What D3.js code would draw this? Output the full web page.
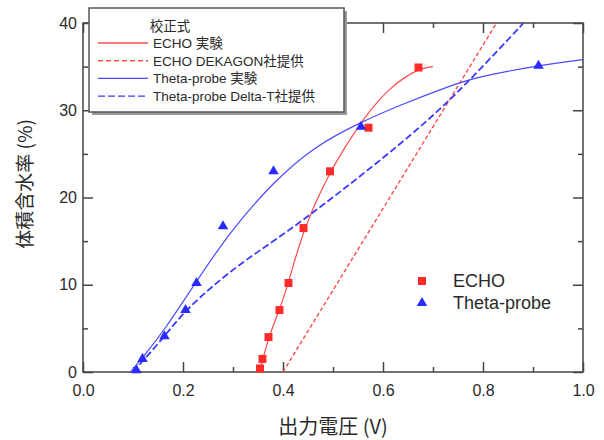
<!DOCTYPE html>
<html>
<head>
<meta charset="utf-8">
<script src="https://cdn.jsdelivr.net/npm/d3@7"></script>
<style>
	body { margin: 0; background: #fff; }
</style>
</head>
<body>
<div id="chart"></div>
<script>
// Measured points: ECHO (red squares)
const echoVolt = [0.354, 0.359, 0.371, 0.393, 0.411, 0.441, 0.494, 0.571, 0.671]
const echoWater = [0.4, 1.5, 4.0, 7.1, 10.2, 16.5, 23.0, 28.0, 34.9]

// Measured points: Theta-probe (blue triangles)
const thetaVolt = [0.107, 0.119, 0.163, 0.205, 0.227, 0.28, 0.381, 0.556, 0.911]
const thetaWater = [0.2, 1.5, 4.1, 7.1, 10.2, 16.7, 23.0, 28.1, 35.1]

// Calibration curves
const echoFitVolt = [0.353, 0.371, 0.393, 0.411, 0.441, 0.494, 0.527, 0.561, 0.614, 0.671, 0.70]
const echoFitWater = [0, 4.0, 7.1, 10.2, 16.5, 23.0, 26.0, 29.1, 32.7, 34.8, 35.0]

const dekagonVolt = [0.40, 0.827]
const dekagonWater = [0, 40]

const thetaFitVolt = [0.095, 0.12, 0.163, 0.227, 0.294, 0.381, 0.461, 0.554, 0.634, 0.734, 0.787, 0.907, 1.0]
const thetaFitWater = [0, 1.7, 4.8, 10.4, 16.1, 21.8, 25.8, 28.6, 30.6, 32.8, 33.8, 35.1, 35.8]

const deltaTVolt = [0.10, 0.163, 0.204, 0.30, 0.40, 0.50, 0.60, 0.70, 0.78, 0.881]
const deltaTWater = [0, 4.05, 7.1, 11.9, 15.7, 20.0, 24.5, 29.3, 33.8, 40]

const xTicks = [0, 0.2, 0.4, 0.6, 0.8, 1.0]
const xMinorTicks = [0.1, 0.3, 0.5, 0.7, 0.9]
const yTicks = [0, 10, 20, 30, 40]
const yMinorTicks = [5, 15, 25, 35]

const lineLegend = [
	{ label: "ECHO 実験", color: "#ff4a4a", dash: null },
	{ label: "ECHO DEKAGON社提供", color: "#ff4a4a", dash: "5,3" },
	{ label: "Theta-probe 実験", color: "#4a4aff", dash: null },
	{ label: "Theta-probe Delta-T社提供", color: "#3a3aff", dash: "7,3" },
]

const W = 604, H = 440
const svg = d3.select("#chart").append("svg")
	.attr("width", W).attr("height", H)
	.style("font-family", "'Liberation Sans', 'Noto Sans CJK JP', sans-serif")

const x = d3.scaleLinear().domain([0, 1]).range([83, 583])
const y = d3.scaleLinear().domain([0, 40]).range([372, 23])

const zip = (a, b) => a.map((v, i) => [v, b[i]])

// axes with inward ticks
const styleAxis = (g) => {
	g.select(".domain").remove()
	g.selectAll("line").attr("stroke", "#444").attr("stroke-width", 1.5)
	g.selectAll("text").attr("fill", "#2a2a2a").style("font-size", "16px")
}

svg.append("g").attr("transform", `translate(0,${y(0)})`)
	.call(d3.axisBottom(x).tickValues(xTicks).tickSize(-10).tickPadding(13).tickFormat(d3.format(".1f")))
	.call(styleAxis)
svg.append("g").attr("transform", `translate(0,${y(0)})`)
	.call(d3.axisBottom(x).tickValues(xMinorTicks).tickSize(-5).tickFormat(""))
	.call(styleAxis)
svg.append("g").attr("transform", `translate(0,${y(40)})`)
	.call(d3.axisTop(x).tickValues(xTicks).tickSize(-10).tickFormat(""))
	.call(styleAxis)
svg.append("g").attr("transform", `translate(0,${y(40)})`)
	.call(d3.axisTop(x).tickValues(xMinorTicks).tickSize(-5).tickFormat(""))
	.call(styleAxis)
svg.append("g").attr("transform", `translate(${x(0)},0)`)
	.call(d3.axisLeft(y).tickValues(yTicks).tickSize(-10).tickPadding(6).tickFormat(d3.format("d")))
	.call(styleAxis)
svg.append("g").attr("transform", `translate(${x(0)},0)`)
	.call(d3.axisLeft(y).tickValues(yMinorTicks).tickSize(-5).tickFormat(""))
	.call(styleAxis)
svg.append("g").attr("transform", `translate(${x(1)},0)`)
	.call(d3.axisRight(y).tickValues(yTicks).tickSize(-10).tickFormat(""))
	.call(styleAxis)
svg.append("g").attr("transform", `translate(${x(1)},0)`)
	.call(d3.axisRight(y).tickValues(yMinorTicks).tickSize(-5).tickFormat(""))
	.call(styleAxis)

// frame
svg.append("rect")
	.attr("x", x(0)).attr("y", y(40))
	.attr("width", x(1) - x(0)).attr("height", y(0) - y(40))
	.attr("fill", "none").attr("stroke", "#444").attr("stroke-width", 1.5)

// clip curves to plot area
svg.append("clipPath").attr("id", "plot-clip")
	.append("rect")
	.attr("x", x(0)).attr("y", y(40))
	.attr("width", x(1) - x(0)).attr("height", y(0) - y(40))

const line = d3.line()
	.x((d) => x(d[0]))
	.y((d) => y(d[1]))
	.curve(d3.curveBasis)

const curves = svg.append("g").attr("clip-path", "url(#plot-clip)")

curves.append("path").datum(zip(echoFitVolt, echoFitWater))
	.attr("fill", "none").attr("stroke", "#ff4a4a").attr("stroke-width", 1.2)
	.attr("d", line)
curves.append("path").datum(zip(dekagonVolt, dekagonWater))
	.attr("fill", "none").attr("stroke", "#ff4a4a").attr("stroke-width", 1.4)
	.attr("stroke-dasharray", "4,2.5")
	.attr("d", line)
curves.append("path").datum(zip(thetaFitVolt, thetaFitWater))
	.attr("fill", "none").attr("stroke", "#4a4aff").attr("stroke-width", 1.2)
	.attr("d", line)
curves.append("path").datum(zip(deltaTVolt, deltaTWater))
	.attr("fill", "none").attr("stroke", "#3a3aff").attr("stroke-width", 1.8)
	.attr("stroke-dasharray", "7,3")
	.attr("d", line)

// data points
const square = d3.symbol().type(d3.symbolSquare).size(64)
const triangle = d3.symbol().type(d3.symbolTriangle).size(48)

svg.append("g").selectAll("path")
	.data(zip(echoVolt, echoWater))
	.join("path")
	.attr("d", square)
	.attr("transform", (d) => `translate(${x(d[0])},${y(d[1])})`)
	.attr("fill", "#ff2a2a")

svg.append("g").selectAll("path")
	.data(zip(thetaVolt, thetaWater))
	.join("path")
	.attr("d", triangle)
	.attr("transform", (d) => `translate(${x(d[0])},${y(d[1])})`)
	.attr("fill", "#2a2aff")

// scatter legend
const pointLegend = svg.append("g").attr("transform", "translate(422,281)")
pointLegend.append("path").attr("d", square).attr("fill", "#ff2a2a")
pointLegend.append("path").attr("d", triangle).attr("fill", "#2a2aff")
	.attr("transform", "translate(0,22)")
pointLegend.append("text").attr("x", 31).attr("y", 6).text("ECHO")
	.style("font-size", "18px").attr("fill", "#2a2a2a")
pointLegend.append("text").attr("x", 31).attr("y", 28).text("Theta-probe")
	.style("font-size", "18px").attr("fill", "#2a2a2a")

// calibration legend box
const legend = svg.append("g")
legend.append("rect")
	.attr("x", 92).attr("y", 11).attr("width", 255).attr("height", 104)
	.attr("fill", "#999")
legend.append("rect")
	.attr("x", 89).attr("y", 8).attr("width", 255).attr("height", 104)
	.attr("fill", "#fff").attr("stroke", "#555").attr("stroke-width", 1.5)
legend.append("text")
	.attr("x", 170).attr("y", 31)
	.attr("text-anchor", "middle")
	.style("font-size", "13.5px")
	.attr("fill", "#2a2a2a")
	.text("校正式")

lineLegend.forEach((d, i) => {
	const row = legend.append("g").attr("transform", `translate(0,${43 + i * 17.7})`)
	row.append("line")
		.attr("x1", 98).attr("x2", 148)
		.attr("stroke", d.color).attr("stroke-width", 1.4)
		.attr("stroke-dasharray", d.dash)
	row.append("text")
		.attr("x", 153).attr("y", 5)
		.style("font-size", "13.5px")
		.attr("fill", "#2a2a2a")
		.text(d.label)
})

// axis titles
svg.append("text")
	.attr("x", 333).attr("y", 434)
	.attr("text-anchor", "middle")
	.style("font-size", "20px")
	.style("font-family", "'Noto Sans CJK JP', sans-serif")
	.attr("fill", "#2a2a2a")
	.text("出力電圧 (V)")

svg.append("text")
	.attr("transform", "translate(32,184) rotate(-90)")
	.attr("text-anchor", "middle")
	.style("font-size", "19px")
	.style("font-family", "'Noto Sans CJK JP', sans-serif")
	.attr("fill", "#2a2a2a")
	.text("体積含水率 (%)")
</script>
</body>
</html>
